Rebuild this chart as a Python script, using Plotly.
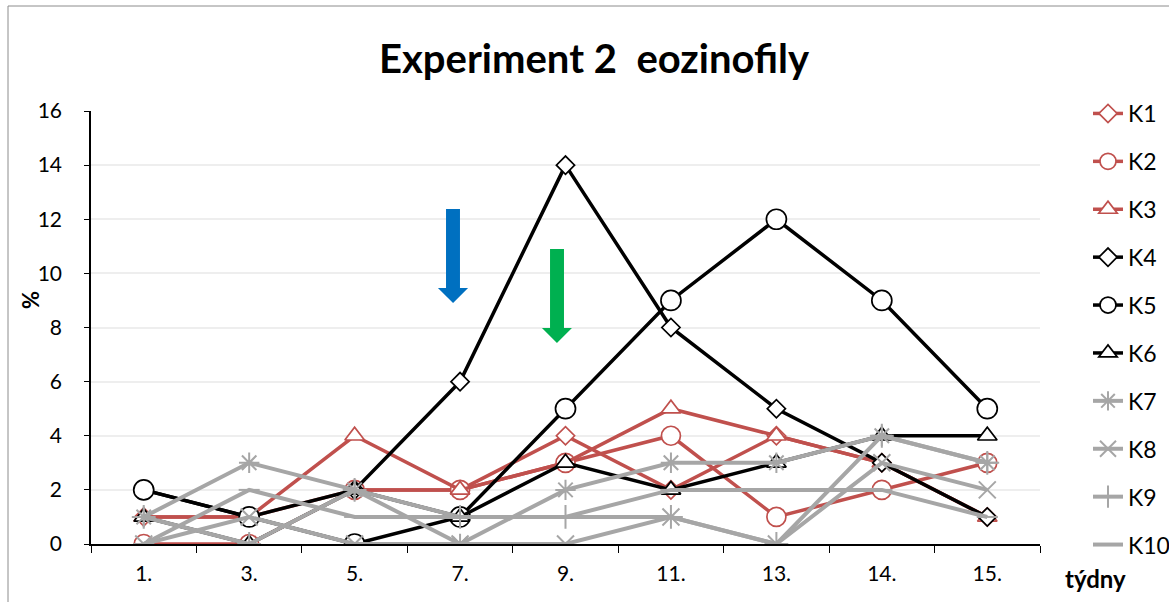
import plotly.graph_objects as go

weeks = ["1.", "3.", "5.", "7.", "9.", "11.", "13.", "14.", "15."]
series_names = ["K1", "K2", "K3", "K4", "K5", "K6", "K7", "K8", "K9", "K10"]
K1 = [1, 1, 2, 2, 4, 2, 4, 3, 1]
K2 = [0, 0, 2, 2, 3, 4, 1, 2, 3]
K3 = [1, 1, 4, 2, 3, 5, 4, 3, 1]
K4 = [2, 1, 2, 6, 14, 8, 5, 3, 1]
K5 = [2, 1, 0, 1, 5, 9, 12, 9, 5]
K6 = [1, 0, 2, 1, 3, 2, 3, 4, 4]
K7 = [1, 3, 2, 0, 2, 3, 3, 4, 3]
K8 = [0, 1, 0, 0, 0, 1, 0, 3, 2]
K9 = [1, 0, 2, 1, 1, 1, 0, 4, 3]
K10 = [0, 2, 1, 1, 1, 2, 2, 2, 1]
values = [K1, K2, K3, K4, K5, K6, K7, K8, K9, K10]

RED = "#C0504D"
BLACK = "#000000"
GRAY = "#A6A6A6"
FONT = "Lato"

styles = [
    (RED, "diamond", 14, 3.5),
    (RED, "circle", 19, 3.5),
    (RED, "triangle-up", 17, 3.5),
    (BLACK, "diamond", 14, 3.5),
    (BLACK, "circle", 20, 3.5),
    (BLACK, "triangle-up", 17, 3.5),
    (GRAY, "asterisk-open", 17, 4),
    (GRAY, "x-thin-open", 17, 4),
    (GRAY, "cross-thin-open", 17, 4),
    (GRAY, "line-ew-open", 15, 4),
]

fig = go.Figure()
for name, vals, (col, sym, sz, lw) in zip(series_names, values, styles):
    open_sym = sym.endswith("-open")
    fig.add_trace(go.Scatter(
        x=weeks, y=vals, name=name, mode="lines+markers",
        legendgroup=name,
        line=dict(color=col, width=lw),
        marker=dict(symbol=sym, size=sz,
                    color=col if open_sym else "white",
                    line=dict(color=col, width=2 if open_sym else 1.7)),
    ))

L, R, T, B = 91, 1040, 111, 544
W, H = 1169, 602


def px(x):
    return (x - L) / (R - L)


def py(y):
    return (B - y) / (B - T)


def arrow(xc, ytop, yhead, ytip, shaft, head, color):
    pts = [
        (xc - shaft / 2, ytop), (xc + shaft / 2, ytop), (xc + shaft / 2, yhead),
        (xc + head / 2, yhead), (xc, ytip), (xc - head / 2, yhead),
        (xc - shaft / 2, yhead),
    ]
    path = "M" + " L".join(f"{px(a):.4f},{py(b):.4f}" for a, b in pts) + " Z"
    return dict(type="path", xref="paper", yref="paper", path=path,
                fillcolor=color, line=dict(width=0), layer="above")


shapes = [
    arrow(453, 209, 288, 303, 14, 30, "#0070C0"),
    arrow(557, 249, 328, 343, 14, 30, "#00B050"),
    dict(type="rect", xref="paper", yref="paper",
         x0=px(8), x1=px(1180), y0=py(610), y1=py(6),
         line=dict(color="#8c8c8c", width=1), layer="below"),
]

fig.update_layout(
    width=W, height=H,
    margin=dict(l=L, r=W - R, t=T, b=H - B, autoexpand=False),
    paper_bgcolor="white", plot_bgcolor="white",
    font=dict(family=FONT, size=21, color="black"),
    title=dict(text="<b>Experiment 2  eozinofily</b>", xref="container",
               x=594 / W, xanchor="center",
               yref="container", y=1 - 59 / H, yanchor="middle",
               font=dict(family=FONT, size=40, color="black")),
    xaxis=dict(type="category", range=[-0.5, 8.5], tickson="boundaries",
               showline=True, linecolor="black", linewidth=1.5,
               ticks="outside", ticklen=7, tickcolor="black", tickwidth=1.2,
               showgrid=False, tickfont=dict(size=21), zeroline=False,
               ticklabelstandoff=10),
    yaxis=dict(range=[0, 16], dtick=2, showline=True, linecolor="black",
               linewidth=1.5, ticks="outside", ticklen=5, tickcolor="black",
               gridcolor="#EEEEEE", gridwidth=1.5, zeroline=False,
               tickfont=dict(size=21), ticklabelstandoff=18),
    legend=dict(x=px(1088), xanchor="left", y=py(92), yanchor="top",
                tracegroupgap=15, font=dict(size=23), maxheight=600,
                bgcolor="rgba(0,0,0,0)", itemwidth=30),
    shapes=shapes,
    annotations=[
        dict(text="<b>týdny</b>", xref="paper", yref="paper",
             x=px(1095), y=py(578), xanchor="center", yanchor="middle",
             showarrow=False, font=dict(size=24)),
        dict(text="<b>%</b>", xref="paper", yref="paper", textangle=-90,
             x=px(30), y=py(300), xanchor="center", yanchor="middle",
             showarrow=False, font=dict(size=22)),
    ],
)

fig.write_html("out.html")
